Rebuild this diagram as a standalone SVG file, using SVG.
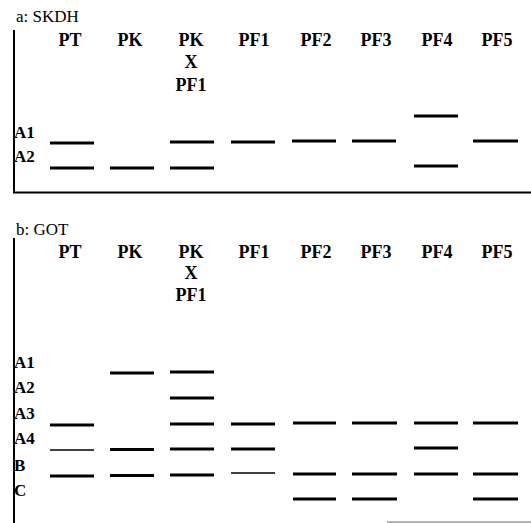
<svg xmlns="http://www.w3.org/2000/svg" width="531" height="523" viewBox="0 0 531 523">
<style>
.title{font-family:"Liberation Serif",serif;font-size:17px;fill:#000}
.col{font-family:"Liberation Serif",serif;font-size:18px;font-weight:bold;fill:#000;text-anchor:middle}
.row{font-family:"Liberation Serif",serif;font-size:17px;font-weight:bold;fill:#000}
.axis{stroke:#000;stroke-width:2;fill:none}
.band{stroke:#000;stroke-width:3}
.thin{stroke:#000;stroke-width:1.6}
</style>
<rect width="531" height="523" fill="#fff"/>
<g id="panel-a">
  <text class="title" x="16" y="22">a: SKDH</text>
  <g id="a-axes">
    <line class="axis" x1="14" y1="30" x2="14" y2="193"/>
    <line class="axis" x1="13" y1="192.5" x2="531" y2="192.5"/>
  </g>
  <g id="a-labels">
    <text class="col" x="70" y="46">PT</text>
    <text class="col" x="130" y="46">PK</text>
    <text class="col" x="191" y="46">PK</text>
    <text class="col" x="191" y="68">X</text>
    <text class="col" x="191" y="91">PF1</text>
    <text class="col" x="254" y="46">PF1</text>
    <text class="col" x="316" y="46">PF2</text>
    <text class="col" x="376" y="46">PF3</text>
    <text class="col" x="437" y="46">PF4</text>
    <text class="col" x="497" y="46">PF5</text>
    <text class="row" x="14" y="138">A1</text>
    <text class="row" x="14" y="162">A2</text>
  </g>
  <g id="a-bands">
    <line class="band" x1="50" y1="143" x2="94" y2="143"/>
    <line class="band" x1="50" y1="168" x2="94" y2="168"/>
    <line class="band" x1="110" y1="168" x2="154" y2="168"/>
    <line class="band" x1="170" y1="142" x2="214" y2="142"/>
    <line class="band" x1="170" y1="168" x2="214" y2="168"/>
    <line class="band" x1="231" y1="142" x2="275" y2="142"/>
    <line class="band" x1="292" y1="141" x2="336" y2="141"/>
    <line class="band" x1="352" y1="141" x2="396" y2="141"/>
    <line class="band" x1="414" y1="116" x2="458" y2="116"/>
    <line class="band" x1="414" y1="166" x2="458" y2="166"/>
    <line class="band" x1="473" y1="141" x2="518" y2="141"/>
  </g>
</g>
<g id="panel-b">
  <text class="title" x="16" y="235">b: GOT</text>
  <g id="b-axes">
    <line class="axis" x1="14" y1="238" x2="14" y2="523"/>
    <line x1="387" y1="522" x2="531" y2="522" stroke="#666" stroke-width="1"/>
  </g>
  <g id="b-labels">
    <text class="col" x="70" y="258">PT</text>
    <text class="col" x="130" y="258">PK</text>
    <text class="col" x="191" y="258">PK</text>
    <text class="col" x="191" y="279">X</text>
    <text class="col" x="191" y="301">PF1</text>
    <text class="col" x="254" y="258">PF1</text>
    <text class="col" x="316" y="258">PF2</text>
    <text class="col" x="376" y="258">PF3</text>
    <text class="col" x="437" y="258">PF4</text>
    <text class="col" x="497" y="258">PF5</text>
    <text class="row" x="14" y="368">A1</text>
    <text class="row" x="14" y="393">A2</text>
    <text class="row" x="14" y="419">A3</text>
    <text class="row" x="14" y="444">A4</text>
    <text class="row" x="14" y="471">B</text>
    <text class="row" x="14" y="496">C</text>
  </g>
  <g id="b-bands">
    <line class="band" x1="50" y1="425" x2="94" y2="425"/>
    <line class="thin" x1="50" y1="450" x2="94" y2="450"/>
    <line class="band" x1="50" y1="476" x2="94" y2="476"/>
    <line class="band" x1="110" y1="373" x2="154" y2="373"/>
    <line class="band" x1="110" y1="449.5" x2="154" y2="449.5"/>
    <line class="band" x1="110" y1="475.5" x2="154" y2="475.5"/>
    <line class="band" x1="170" y1="372" x2="214" y2="372"/>
    <line class="band" x1="170" y1="398" x2="214" y2="398"/>
    <line class="band" x1="170" y1="424" x2="214" y2="424"/>
    <line class="band" x1="170" y1="449" x2="214" y2="449"/>
    <line class="band" x1="170" y1="475" x2="214" y2="475"/>
    <line class="band" x1="231" y1="424" x2="275" y2="424"/>
    <line class="band" x1="231" y1="449" x2="275" y2="449"/>
    <line class="thin" x1="231" y1="473" x2="275" y2="473"/>
    <line class="band" x1="293" y1="423" x2="336" y2="423"/>
    <line class="band" x1="293" y1="474" x2="336" y2="474"/>
    <line class="band" x1="293" y1="499" x2="336" y2="499"/>
    <line class="band" x1="352" y1="423" x2="397" y2="423"/>
    <line class="band" x1="352" y1="474" x2="397" y2="474"/>
    <line class="band" x1="352" y1="499" x2="397" y2="499"/>
    <line class="band" x1="414" y1="423" x2="458" y2="423"/>
    <line class="band" x1="414" y1="448" x2="458" y2="448"/>
    <line class="band" x1="414" y1="474" x2="458" y2="474"/>
    <line class="band" x1="473" y1="423" x2="518" y2="423"/>
    <line class="band" x1="473" y1="474" x2="518" y2="474"/>
    <line class="band" x1="473" y1="499" x2="518" y2="499"/>
  </g>
</g>
</svg>
